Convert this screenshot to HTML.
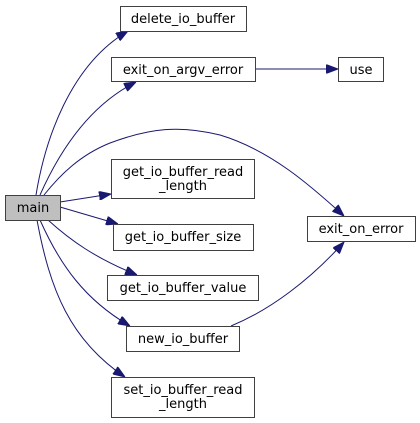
<!DOCTYPE html>
<html><head><meta charset="utf-8"><style>
html,body{margin:0;padding:0;background:#fff;width:420px;height:423px;overflow:hidden}
text{font-family:"DejaVu Sans","Liberation Sans",sans-serif;font-size:13px;fill:#000}
</style></head><body>
<svg width="420" height="423" viewBox="0 0 420 423" xmlns="http://www.w3.org/2000/svg">
<defs><marker id="a" viewBox="0 0 12 9" refX="12" refY="4.5" markerWidth="12" markerHeight="9" markerUnits="userSpaceOnUse" orient="auto"><path d="M0,0 L12,4.5 L0,9 z" fill="#191970" stroke="#191970"/></marker></defs>
<g fill="none" stroke="#191970" stroke-width="1" marker-end="url(#a)">
<path d="M36,195 C45,140 70,65 128,31"/>
<path d="M40,195 C60,150 90,105 136,82"/>
<path d="M44,195 C60,175 80,155 110,143 C150,128 180,125 220,135 C270,150 310,185 344,216"/>
<path d="M60,202 L111,194"/>
<path d="M60,207 L118,224"/>
<path d="M48,220 C70,240 95,258 137,275"/>
<path d="M40,220 C60,265 85,300 130,326"/>
<path d="M37,220 C50,290 70,340 125,377"/>
<path d="M255,69 L338,69"/>
<path d="M231,326 C270,310 310,280 344,242"/>
</g>
<g stroke="#404040" stroke-width="1">
<rect x="5.5" y="195.5" width="55" height="25" fill="#bfbfbf"/>
<rect x="120.5" y="6.5" width="126" height="25" fill="#fff"/>
<rect x="111.5" y="57.5" width="144" height="24" fill="#fff"/>
<rect x="338.5" y="57.5" width="45" height="24" fill="#fff"/>
<rect x="111.5" y="159.5" width="143" height="39" fill="#fff"/>
<rect x="307.5" y="216.5" width="108" height="25" fill="#fff"/>
<rect x="113.5" y="224.5" width="140" height="26" fill="#fff"/>
<rect x="107.5" y="275.5" width="151" height="25" fill="#fff"/>
<rect x="126.5" y="326.5" width="113" height="25" fill="#fff"/>
<rect x="111.5" y="377.5" width="143" height="40" fill="#fff"/>
</g>
<g text-anchor="middle">
<text x="33" y="212">main</text>
<text x="183" y="23">delete_io_buffer</text>
<text x="183" y="74">exit_on_argv_error</text>
<text x="361" y="74">use</text>
<text x="183" y="176">get_io_buffer_read</text>
<text x="183" y="190">_length</text>
<text x="361" y="233">exit_on_error</text>
<text x="183" y="241">get_io_buffer_size</text>
<text x="183" y="292">get_io_buffer_value</text>
<text x="183" y="343">new_io_buffer</text>
<text x="183" y="394">set_io_buffer_read</text>
<text x="183" y="408">_length</text>
</g>
</svg>
</body></html>
